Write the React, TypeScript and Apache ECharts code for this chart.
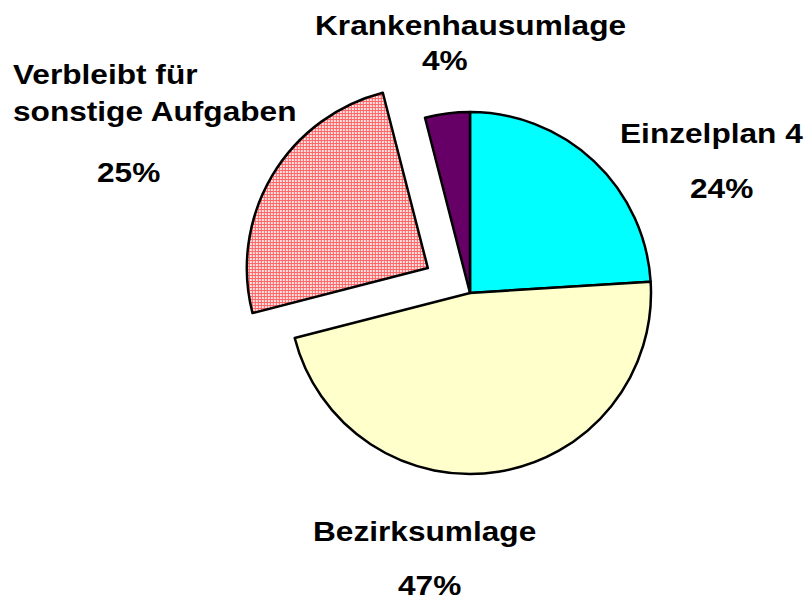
import React, { useEffect, useRef } from "react";
import * as echarts from "echarts";

const categories = ["Einzelplan 4", "Bezirksumlage", "Verbleibt für\nsonstige Aufgaben", "Krankenhausumlage"];
const values = [24, 47, 25, 4];
const colors = ["#00ffff", "#ffffcc", "pattern", "#660066"];
const exploded = [false, false, true, false];

// label placement: [left x, cap-center y of name line(s)], [left x, cap-center y of percent]
const labelSpots: number[][][] = [
  [[620, 133], [690, 188]],
  [[313, 531], [398, 585]],
  [[13, 74], [97, 172]],
  [[315, 25], [422, 60]],
];

function makePattern(): string {
  const c = document.createElement("canvas");
  c.width = 3;
  c.height = 3;
  const ctx = c.getContext("2d")!;
  ctx.fillStyle = "#ff6262";
  ctx.fillRect(0, 0, 3, 3);
  ctx.fillStyle = "rgba(255,255,255,0.85)";
  ctx.fillRect(1, 1, 2, 2);
  return c.toDataURL();
}

export default function App() {
  const ref = useRef<HTMLDivElement>(null);
  useEffect(() => {
    if (!ref.current) return;
    const chart = echarts.init(ref.current, null, { renderer: "svg" });
    const pattern = { image: makePattern(), repeat: "repeat", imageWidth: 3, imageHeight: 3 };
    const total = values.reduce((a, b) => a + b, 0);
    const fontSize = 28;
    const sx = 1.13;
    const texts: any[] = [];
    categories.forEach((name, i) => {
      const lines = name.split("\n");
      const [nameSpot, pctSpot] = labelSpots[i];
      lines.forEach((ln, j) => {
        texts.push({
          type: "text",
          x: nameSpot[0],
          y: nameSpot[1] + j * 37,
          scaleX: sx,
          style: {
            text: ln,
            font: `bold ${fontSize}px "Liberation Sans", Arial, sans-serif`,
            fill: "#000",
            align: "left",
            verticalAlign: "middle",
          },
        });
      });
      texts.push({
        type: "text",
        x: pctSpot[0],
        y: pctSpot[1],
        scaleX: sx,
        style: {
          text: Math.round((values[i] / total) * 100) + "%",
          font: `bold ${fontSize}px "Liberation Sans", Arial, sans-serif`,
          fill: "#000",
          align: "left",
          verticalAlign: "middle",
        },
      });
    });
    chart.setOption({
      animation: false,
      backgroundColor: "#ffffff",
      series: [
        {
          type: "pie",
          center: [470, 293],
          radius: 181,
          startAngle: 90,
          clockwise: true,
          selectedMode: "single",
          selectedOffset: 49,
          avoidLabelOverlap: false,
          label: { show: false },
          labelLine: { show: false },
          emphasis: { disabled: true },
          itemStyle: { borderColor: "#000", borderWidth: 2.5 },
          select: { itemStyle: { borderColor: "#000", borderWidth: 2.5 } },
          data: categories.map((name, i) => ({
            name,
            value: values[i],
            selected: exploded[i],
            itemStyle: { color: colors[i] === "pattern" ? pattern : colors[i] },
            select: { itemStyle: { color: colors[i] === "pattern" ? pattern : colors[i], borderColor: "#000", borderWidth: 2.5 } },
          })),
        },
      ],
      graphic: texts,
    });
    return () => chart.dispose();
  }, []);
  return (
    <div
      ref={ref}
      style={{ position: "fixed", left: 0, top: 0, width: 808, height: 601 }}
    />
  );
}
